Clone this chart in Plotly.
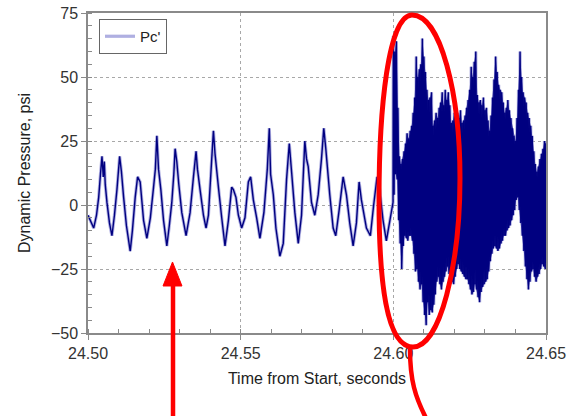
import plotly.graph_objects as go
import numpy as np

# ---------------- data ----------------
T0 = 24.50  # seconds; times below are milliseconds after T0

# Quiet region (24.50 - 24.60 s): time [ms after 24.50], value [psi]
pre_ms = [0.0, 0.75, 1.86, 2.78, 3.50, 4.08, 4.58, 5.00, 5.33, 5.65, 6.21, 7.03, 7.84,
          8.66, 9.48, 10.36, 10.95, 11.67, 12.58, 13.82, 14.54, 15.46, 16.24, 17.09,
          18.20, 19.28, 20.42, 21.47, 22.06, 22.55, 23.10, 23.86, 24.74, 25.82, 26.63,
          27.45, 28.10, 28.53, 29.08, 29.74, 30.72, 32.12, 33.43, 34.54, 35.39, 35.85,
          36.70, 37.81, 38.66, 39.44, 40.52, 41.08, 41.60, 42.71, 43.79, 44.87, 45.98,
          47.06, 47.61, 48.46, 49.25, 50.33, 51.41, 52.52, 53.27, 54.15, 55.23, 56.31,
          57.61, 58.73, 59.38, 59.80, 60.69, 61.54, 62.84, 63.95, 65.03, 65.92, 66.67,
          67.75, 68.86, 69.93, 71.01, 71.57, 72.12, 73.20, 74.28, 75.39, 76.47, 77.22,
          77.88, 79.18, 80.29, 81.14, 82.25, 83.56, 84.64, 85.72, 86.83, 87.91, 88.79,
          89.54, 91.18, 92.48, 93.56, 94.67, 95.33, 96.63, 97.71, 99.02, 99.90]
pre_val = [-4, -6, -9, -4, 3, 12, 19, 11, 17, 8, 1, -7, -12,
           -4, 6, 19, 13, 3, -8, -18, -10, 3, 11, 9,
           -6, -13, -5, 7, 14, 27, 14, 6, -6, -16, -8,
           1, 12, 22, 17, 8, -3, -12, -3, 11, 21, 14,
           6, -4, -9, -4, 18, 29, 20, 7, -5, -16, -6,
           7, 6, 3, -4, -9, -5, 9, 11, 2, -5, -13,
           -3, 14, 30, 12, 4, -9, -20, -15, 10, 24, 13,
           -3, -15, -4, 25, 18, 15, 1, -4, 4, 18, 30,
           22, 4, -9, -12, -2, 11, 4, -7, -16, -7, 9,
           2, -9, -12, 0, 11, 8, -6, -14, -5, 1]

# Unstable region (24.60 - 24.65 s): upper / lower swing every 0.5 ms starting at 100 ms
dense_start_ms = 100.0
dense_step_ms = 0.5
dense_hi = [66, 60, 64, 38, 19, 16, 18, 21, 24, 28, 26, 29, 31, 36, 42, 58, 50, 53, 55, 65,
            58, 52, 45, 41, 42, 44, 31, 33, 36, 34, 38, 40, 44, 39, 45, 41, 44, 39, 32, 33,
            36, 34, 36, 34, 37, 32, 33, 35, 38, 41, 45, 54, 50, 56, 60, 43, 40, 41, 39, 42,
            37, 38, 33, 29, 35, 42, 49, 58, 52, 47, 45, 44, 40, 36, 38, 41, 37, 34, 30, 27,
            25, 34, 45, 60, 50, 44, 42, 40, 36, 34, 31, 27, 21, 16, 13, 15, 18, 20, 22, 25, 24]
dense_lo = [4, 12, 10, -6, -15, -25, -16, -12, -13, -14, -12, -12, -14, -19, -26, -25, -30, -33, -31, -38,
            -43, -47, -38, -43, -41, -42, -39, -35, -30, -28, -31, -33, -30, -28, -26, -24, -27, -29, -30, -31,
            -28, -25, -23, -25, -26, -27, -28, -29, -29, -31, -33, -35, -34, -31, -33, -36, -38, -34, -32, -31,
            -30, -29, -26, -22, -19, -17, -16, -17, -18, -17, -15, -14, -12, -12, -10, -9, -8, -6, -4, -2,
            2, 3, -2, -7, -12, -18, -24, -29, -33, -30, -26, -25, -28, -30, -28, -27, -25, -23, -24, -25, -26]

x_ticks = [24.50, 24.55, 24.60, 24.65]
y_ticks = [-50, -25, 0, 25, 50, 75]
series_name = "Pc'"
x_title = "Time from Start, seconds"
y_title = "Dynamic Pressure, psi"

# ---------------- build series ----------------
t_ms = list(pre_ms)
vals = list(pre_val)
hi_ms, lo_ms = [], []
for k, (hi, lo) in enumerate(zip(dense_hi, dense_lo)):
    tk = dense_start_ms + k * dense_step_ms
    t_ms.append(tk)
    vals.append(hi)
    hi_ms.append(tk)
    lo_ms.append(tk + dense_step_ms / 2)
    if k < len(dense_hi) - 1:
        t_ms.append(tk + dense_step_ms / 2)
        vals.append(lo)
t_sec = T0 + np.array(t_ms) / 1000.0

# solid body of the unstable band (polygon between the swings)
band_x = T0 + np.array(hi_ms[1:] + lo_ms[1:-1][::-1]) / 1000.0
band_y = dense_hi[1:] + dense_lo[1:-1][::-1]

fig = go.Figure()
fig.add_trace(go.Scatter(x=band_x, y=band_y, mode="lines", fill="toself",
                         fillcolor="#000080", line=dict(width=0, color="#000080"),
                         hoverinfo="skip", showlegend=False))
fig.add_trace(go.Scatter(x=t_sec, y=vals, mode="lines", name=series_name,
                         line=dict(color="rgba(110,110,200,0.55)", width=3.2, simplify=False),
                         hoverinfo="skip", showlegend=True))
fig.add_trace(go.Scatter(x=t_sec, y=vals, mode="lines", name=series_name,
                         line=dict(color="#000080", width=1.4, simplify=False), showlegend=False))

# ---------------- layout ----------------
W, H = 568, 416
L, R, T, B = 88, 22, 13, 83
PW, PH = W - L - R, H - T - B


def px(x):
    return (x - L) / PW


def py(y):
    return (H - B - y) / PH


font_main = "Liberation Sans, Arial, sans-serif"
grid = dict(showgrid=True, gridcolor="#a8a8a8", gridwidth=1, griddash="dot",
            showline=True, linecolor="#8a8a8a", linewidth=1.5, mirror=True,
            ticks="outside", ticklen=5, tickcolor="#8a8a8a", zeroline=False,
            automargin=False,
            tickfont=dict(family=font_main, size=16, color="#333333"))

fig.update_layout(
    width=W, height=H,
    margin=dict(l=L, r=R, t=T, b=B, autoexpand=False),
    paper_bgcolor="white", plot_bgcolor="white",
    font=dict(family=font_main, size=16, color="#222222"),
    xaxis=dict(range=[x_ticks[0], x_ticks[-1]], tickvals=x_ticks,
               ticktext=[f"{v:.2f}" for v in x_ticks],
               title=dict(text=x_title, font=dict(size=16, color="#222222"), standoff=12),
               minor=dict(dtick=0.01, ticks="inside", ticklen=4, tickcolor="#8a8a8a", showgrid=False),
               **grid),
    yaxis=dict(range=[y_ticks[0], y_ticks[-1]], tickvals=y_ticks,
               title=dict(text=y_title, font=dict(size=16, color="#222222"), standoff=16),
               minor=dict(dtick=5, ticks="inside", ticklen=4, tickcolor="#8a8a8a", showgrid=False),
               **grid),
    legend=dict(x=px(99), y=py(19), xanchor="left", yanchor="top",
                bgcolor="white", bordercolor="#666666", borderwidth=1,
                font=dict(family=font_main, size=15, color="#222222"),
                itemwidth=30, tracegroupgap=0),
    showlegend=True,
)

# ---------------- red callouts (pixel layout converted to paper coords) ----------------
def pth(cmds):
    out = []
    for c in cmds:
        if isinstance(c, str):
            out.append(c)
        else:
            out.append(f"{px(c[0]):.4f},{py(c[1]):.4f}")
    return " ".join(out)

ellipse = pth(["M", (412, 15),
               "C", (441, 15), (460, 95), (460, 178),
               "C", (460, 265), (440, 347), (413, 347),
               "C", (386, 347), (379, 280), (379, 200),
               "C", (379, 110), (388, 15), (412, 15), "Z"])
fig.add_shape(type="path", path=ellipse, xref="paper", yref="paper",
              line=dict(color="#ff0000", width=5), layer="above")

tail = pth(["M", (410, 349), "C", (410, 380), (415, 397), (427, 420)])
fig.add_shape(type="path", path=tail, xref="paper", yref="paper",
              line=dict(color="#ff0000", width=4.5), layer="above")

shaft = pth(["M", (173, 420), "L", (173, 282)])
fig.add_shape(type="path", path=shaft, xref="paper", yref="paper",
              line=dict(color="#ff0000", width=4.5), layer="above")
head = pth(["M", (172.5, 262), "L", (182, 286), "L", (163, 286), "Z"])
fig.add_shape(type="path", path=head, xref="paper", yref="paper",
              line=dict(color="#ff0000", width=1), fillcolor="#ff0000", layer="above")

fig.write_html("out.html")
